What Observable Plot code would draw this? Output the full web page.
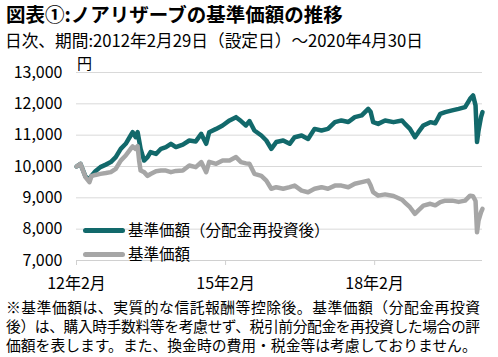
<!DOCTYPE html>
<html><head><meta charset="utf-8">
<script src="https://cdn.jsdelivr.net/npm/d3@7"></script>
<script src="https://cdn.jsdelivr.net/npm/@observablehq/plot@0.6"></script>
<style>
body{margin:0;background:#fff;font-family:"Noto Sans CJK JP","Noto Sans",sans-serif;color:#000}
#wrap{position:relative;width:498px;height:357px;overflow:hidden}
#title{position:absolute;left:6px;top:3px;font-size:19.5px;font-weight:700;white-space:nowrap;line-height:21px}
#sub{position:absolute;left:5px;top:30px;font-size:16.7px;white-space:nowrap;line-height:20px}
#chart{position:absolute;left:0;top:52px}
#unit{position:absolute;left:77px;top:54px;font-size:15px;line-height:18px}
.lg{position:absolute;left:83px;font-size:15.5px;line-height:20px;white-space:nowrap}
.sw{display:inline-block;width:42px;height:5px;border-radius:3px;vertical-align:middle;margin-right:3px;position:relative;top:-1px}
.cap{position:absolute;left:6px;font-size:14.8px;line-height:17px;white-space:nowrap}
</style></head><body>
<div id="wrap">
<div id="title">図表①:ノアリザーブの基準価額の推移</div>
<div id="sub">日次、期間:2012年2月29日（設定日）～2020年4月30日</div>
<div id="chart"></div>
<div id="unit">円</div>
<div id="legend"></div>
<div id="caption"></div>
</div>
<script>
// decimal-year positions
const t = [2012.16,2012.24,2012.34,2012.42,2012.46,2012.54,2012.64,2012.75,2012.85,2012.95,
2013.05,2013.15,2013.25,2013.29,2013.35,2013.39,2013.42,2013.45,2013.52,2013.59,
2013.65,2013.76,2013.86,2013.96,2014.06,2014.16,2014.30,2014.43,2014.56,2014.67,
2014.77,2014.83,2014.97,2015.10,2015.24,2015.37,2015.47,2015.57,2015.64,2015.74,
2015.88,2015.98,2016.08,2016.18,2016.32,2016.45,2016.55,2016.69,2016.82,2016.95,
2017.09,2017.22,2017.36,2017.49,2017.63,2017.76,2017.90,2018.03,2018.08,2018.13,
2018.23,2018.37,2018.54,2018.71,2018.77,2018.87,2018.97,2019.04,2019.14,2019.28,
2019.38,2019.48,2019.58,2019.72,2019.85,2019.98,2020.08,2020.14,2020.19,2020.22,
2020.25,2020.30,2020.33];
// 基準価額（分配金再投資後）
const reinvested = [10000,10085,9680,9580,9700,9850,9980,10060,10140,10300,
10565,10725,10990,11095,10935,11095,10830,10565,10190,10300,
10460,10400,10565,10620,10725,10620,10700,10830,10800,11040,
10725,11095,11200,11310,11470,11575,11450,11310,11450,11150,
10990,10830,10565,10780,10830,10725,10935,10990,10880,11200,
11150,11200,11415,11470,11420,11575,11630,11840,11740,11415,
11360,11470,11415,11470,11360,11200,10935,11095,11310,11415,
11380,11680,11735,11790,11840,11895,12160,12270,11950,10780,
11150,11575,11735];
// 基準価額
const nav = [10000,10085,9660,9500,9690,9730,9765,9790,9820,9925,
10190,10350,10565,10640,10560,10650,10190,9870,9820,9700,
9760,9850,9870,9870,9820,9860,9870,10030,9980,10140,
9820,10150,10085,10190,10190,10300,10140,10100,10085,9765,
9700,9550,9290,9340,9290,9340,9390,9230,9180,9290,
9340,9290,9390,9390,9340,9450,9500,9550,9390,9180,
9070,9110,9060,8940,8850,8700,8490,8600,8750,8810,
8760,8860,8910,8910,8870,8910,9070,9050,8900,7900,
8270,8540,8650];
const seriesNames = ["基準価額（分配金再投資後）","基準価額"];
const seriesColors = ["#12696b","#a6a6a6"];
const yTicks = [7000,8000,9000,10000,11000,12000,13000];
const xTickPos = [2012.16,2015.16,2018.16];
const xTickLabels = ["12年2月","15年2月","18年2月"];
const captionLines = [
  "※基準価額は、実質的な信託報酬等控除後。基準価額（分配金再投資",
  "後）は、購入時手数料等を考慮せず、税引前分配金を再投資した場合の評",
  "価額を表します。また、換金時の費用・税金等は考慮しておりません。"
];

const rows = t.map((d,i)=>({t:d, reinv:reinvested[i], nav:nav[i]}));
const xLab = new Map(xTickPos.map((p,i)=>[p,xTickLabels[i]]));
const font = '"Noto Sans CJK JP","Noto Sans",sans-serif';

const chart = Plot.plot({
  width: 498, height: 240,
  marginLeft: 76, marginRight: 16, marginTop: 20, marginBottom: 32,
  style: {fontFamily: font, fontSize: "16px", color: "#000", background: "transparent", overflow: "visible"},
  x: {type: "linear", domain: [2012.16, 2020.33]},
  y: {domain: [7000, 13000]},
  marks: [
    Plot.gridY(yTicks.slice(1), {stroke: "#d9d9d9", strokeOpacity: 1, strokeWidth: 1}),
    Plot.ruleY([7000], {stroke: "#d0d0d0", strokeWidth: 1}),
    Plot.axisY(yTicks, {tickSize: 0, tickPadding: 14, tickFormat: d3.format(","), label: null, fontSize: 16}),
    Plot.axisX(xTickPos, {tickSize: 5, tickPadding: 12, stroke: "#d0d0d0", tickFormat: d => xLab.get(d), label: null, fontSize: 16}),
    Plot.lineY(rows, {x: "t", y: "reinv", stroke: seriesColors[0], strokeWidth: 4.5, strokeLinejoin: "round", strokeLinecap: "round"}),
    Plot.lineY(rows, {x: "t", y: "nav", stroke: seriesColors[1], strokeWidth: 4.5, strokeLinejoin: "round", strokeLinecap: "round"})
  ]
});
document.getElementById("chart").appendChild(chart);

const lg = document.getElementById("legend");
const tops = [219, 243];
seriesNames.forEach((n,i)=>{
  const d = document.createElement("div");
  d.className = "lg";
  d.style.top = tops[i] + "px";
  d.innerHTML = `<span class="sw" style="background:${seriesColors[i]}"></span>${n}`;
  lg.appendChild(d);
});

const cap = document.getElementById("caption");
const capWidths = [474, 474, null];
captionLines.forEach((s,i)=>{
  const d = document.createElement("div");
  d.className = "cap";
  d.style.top = (298 + i*19) + "px";
  d.textContent = s;
  cap.appendChild(d);
  if (capWidths[i]) {
    const w = d.getBoundingClientRect().width;
    const n = [...s].length;
    const ls = (capWidths[i] - w) / (n - 1);
    d.style.letterSpacing = ls.toFixed(2) + "px";
  }
});
</script>
</body></html>
